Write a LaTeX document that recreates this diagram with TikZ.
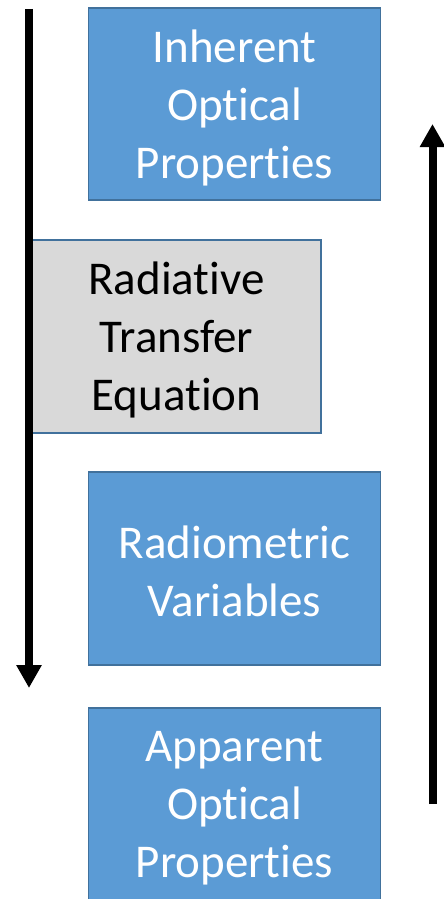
\documentclass[tikz,border=0pt]{standalone}
\usepackage{fontspec}
\setmainfont{Carlito}[Ligatures=CommonOff]
\usetikzlibrary{arrows.meta}
\definecolor{boxblue}{HTML}{5B9BD5}
\definecolor{edgeblue}{HTML}{41719C}
\definecolor{boxgray}{HTML}{D9D9D9}
\begin{document}
\begin{tikzpicture}[x=1pt,y=-1pt,
  box/.style={draw=edgeblue,line width=1.5pt,minimum width=292pt,minimum height=192pt,inner sep=0pt},
  bluebox/.style={box,fill=boxblue},
  graybox/.style={box,fill=boxgray,minimum width=289pt,minimum height=193pt},
  boxtext/.style={inner sep=0pt,align=center,font=\fontsize{47}{58}\selectfont},
  flow/.style={line width=8pt,-{Triangle[width=24pt,length=23pt]}}]
\useasboundingbox (0,0) rectangle (444,899);
\node[bluebox] (iop) at (234.5,104) {};
\node[boxtext,text=white] (iopt) at ([yshift=-3.5pt]iop.center) {Inherent\\Optical\\Properties};
\node[graybox] (rte) at (176.5,336.5) {};
\node[boxtext,text=black] (rtet) at ([yshift=-3.5pt]rte.center) {Radiative\\Transfer\\Equation};
\node[bluebox,minimum height=193pt] (rv) at (234.5,568.5) {};
\node[boxtext,text=white] (rvt) at ([yshift=-3pt]rv.center) {Radiometric\\Variables};
\node[bluebox,minimum height=194pt] (aop) at (234.5,805) {};
\node[boxtext,text=white] (aopt) at ([yshift=-3.5pt]aop.center) {Apparent\\Optical\\Properties};
\coordinate (ltop) at (29,9);
\coordinate (lbot) at (29,688);
\coordinate (rbot) at (432.5,804);
\coordinate (rtop) at (432.5,124);
\draw[flow] (ltop) -- (lbot);
\draw[flow] (rbot) -- (rtop);
\end{tikzpicture}
\end{document}
